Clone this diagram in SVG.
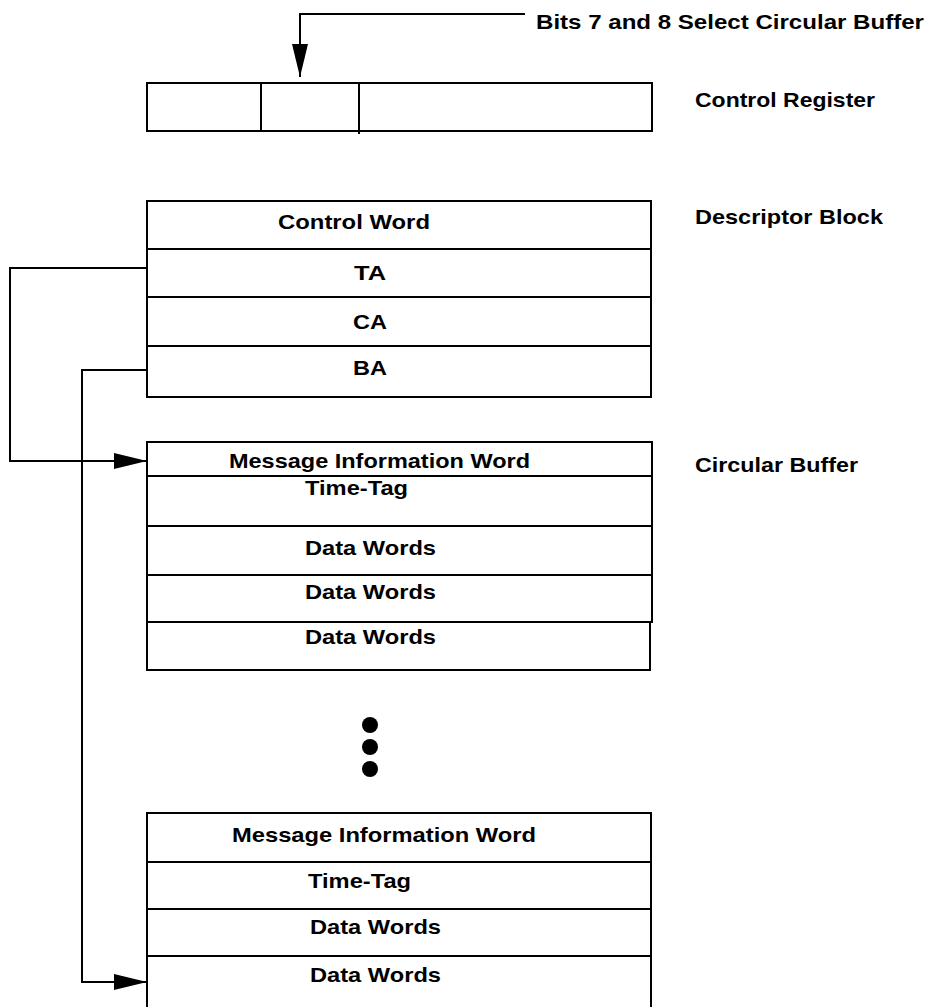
<svg xmlns="http://www.w3.org/2000/svg" width="937" height="1007" viewBox="0 0 937 1007">
<style>
.box{fill:#fff;stroke:#000;stroke-width:2}
.ln{fill:none;stroke:#000;stroke-width:2}
.t{font-family:"Liberation Sans",Arial,sans-serif;font-weight:bold;font-size:21px;fill:#000}
</style>
<defs>
<marker id="ahv" markerWidth="33" markerHeight="16" refX="33" refY="8" orient="auto" markerUnits="userSpaceOnUse">
<path d="M0,0 L33,8 L0,16 Z" fill="#000"/>
</marker>
</defs>
<g id="connectors">
<path class="ln" d="M525,14 H300 V77" marker-end="url(#ahv)"/>
<path class="ln" d="M147,268 H10 V461 H147" marker-end="url(#ahv)"/>
<path class="ln" d="M147,370 H82 V982 H147" marker-end="url(#ahv)"/>
</g>
<g id="control-register">
<rect class="box" x="147" y="83" width="505" height="48"/>
<line class="ln" x1="261" y1="83" x2="261" y2="131"/>
<line class="ln" x1="359" y1="83" x2="359" y2="134"/>
<text class="t" x="695" y="107" textLength="180" lengthAdjust="spacingAndGlyphs">Control Register</text>
</g>
<g id="bits-label">
<text class="t" x="536" y="29" textLength="388" lengthAdjust="spacingAndGlyphs">Bits 7 and 8 Select Circular Buffer</text>
</g>
<g id="descriptor-block">
<rect class="box" x="147" y="201" width="504" height="196"/>
<line class="ln" x1="147" y1="249" x2="651" y2="249"/>
<line class="ln" x1="147" y1="297" x2="652" y2="297" stroke-width="3"/>
<line class="ln" x1="147" y1="346" x2="651" y2="346"/>
<text class="t" x="278" y="229" textLength="152" lengthAdjust="spacingAndGlyphs">Control Word</text>
<text class="t" x="354" y="280" textLength="32" lengthAdjust="spacingAndGlyphs">TA</text>
<text class="t" x="353" y="329" textLength="34" lengthAdjust="spacingAndGlyphs">CA</text>
<text class="t" x="353" y="375" textLength="34" lengthAdjust="spacingAndGlyphs">BA</text>
<text class="t" x="695" y="224" textLength="188" lengthAdjust="spacingAndGlyphs">Descriptor Block</text>
</g>
<g id="circular-buffer-1">
<rect class="box" x="147" y="442" width="505" height="180"/>
<line class="ln" x1="147" y1="476" x2="652" y2="476"/>
<line class="ln" x1="147" y1="526" x2="652" y2="526"/>
<line class="ln" x1="147" y1="575" x2="652" y2="575"/>
<path class="ln" d="M147,622 V670 H650 V622"/>
<text class="t" x="229" y="468" textLength="301" lengthAdjust="spacingAndGlyphs">Message Information Word</text>
<text class="t" x="305" y="495" textLength="103" lengthAdjust="spacingAndGlyphs">Time-Tag</text>
<text class="t" x="305" y="555" textLength="131" lengthAdjust="spacingAndGlyphs">Data Words</text>
<text class="t" x="305" y="599" textLength="131" lengthAdjust="spacingAndGlyphs">Data Words</text>
<text class="t" x="305" y="644" textLength="131" lengthAdjust="spacingAndGlyphs">Data Words</text>
<text class="t" x="695" y="472" textLength="163" lengthAdjust="spacingAndGlyphs">Circular Buffer</text>
</g>
<g id="ellipsis">
<circle cx="370" cy="725" r="8"/>
<circle cx="370" cy="747" r="8"/>
<circle cx="370" cy="769" r="8"/>
</g>
<g id="circular-buffer-2">
<path class="ln" d="M147,1007 V813 H651 V1007"/>
<line class="ln" x1="147" y1="862" x2="651" y2="862" stroke-width="3"/>
<line class="ln" x1="147" y1="909" x2="651" y2="909"/>
<line class="ln" x1="147" y1="956" x2="651" y2="956"/>
<text class="t" x="232" y="842" textLength="304" lengthAdjust="spacingAndGlyphs">Message Information Word</text>
<text class="t" x="308" y="888" textLength="103" lengthAdjust="spacingAndGlyphs">Time-Tag</text>
<text class="t" x="310" y="934" textLength="131" lengthAdjust="spacingAndGlyphs">Data Words</text>
<text class="t" x="310" y="982" textLength="131" lengthAdjust="spacingAndGlyphs">Data Words</text>
</g>
</svg>
